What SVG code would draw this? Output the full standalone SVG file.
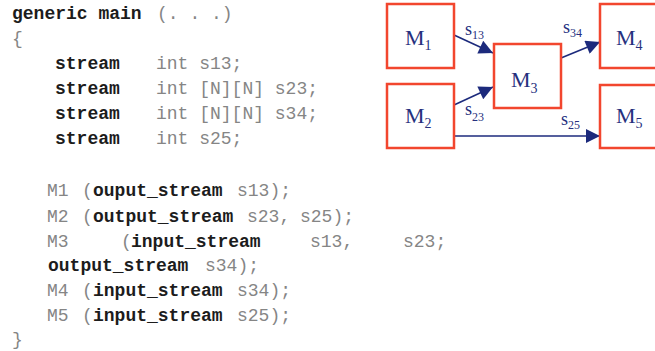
<svg xmlns="http://www.w3.org/2000/svg" width="655" height="351" viewBox="0 0 655 351">
<defs>
<style>
.code{font-family:"Liberation Mono","Courier New",monospace;font-size:18px;fill:#858585}
.b{font-weight:bold;fill:#1c1c1c}
.box{fill:#fff;stroke:#f2462e;stroke-width:2.5}
.lbl{font-family:"Liberation Serif","Times New Roman",serif;font-size:22px;fill:#26307e}
.sub{font-size:14px}
.sl{font-family:"Liberation Serif","Times New Roman",serif;font-size:18px;fill:#26307e}
.ss{font-size:12px}
.conn{stroke:#1c2a7c;stroke-width:1.6;fill:none}
</style>
<marker id="ahl" viewBox="0 0 10 10" refX="10" refY="5" markerWidth="16" markerHeight="14" markerUnits="userSpaceOnUse" orient="auto">
<path d="M0,0 L10,5 L0,10 z" fill="#1c2a7c"/>
</marker>
</defs>
<rect width="655" height="351" fill="#fff"/>
<g id="code">
<text class="code" y="19"><tspan class="b" x="12">generic main</tspan><tspan x="157">(. . .)</tspan></text>
<text class="code" x="12" y="44">{</text>
<text class="code" y="69"><tspan class="b" x="55">stream</tspan><tspan x="156">int s13;</tspan></text>
<text class="code" y="94"><tspan class="b" x="55">stream</tspan><tspan x="156">int [N][N] s23;</tspan></text>
<text class="code" y="119"><tspan class="b" x="55">stream</tspan><tspan x="156">int [N][N] s34;</tspan></text>
<text class="code" y="144"><tspan class="b" x="55">stream</tspan><tspan x="156">int s25;</tspan></text>
<text class="code" y="196"><tspan x="47">M1</tspan><tspan x="82">(</tspan><tspan class="b" x="93">ouput_stream</tspan><tspan x="237">s13);</tspan></text>
<text class="code" y="222"><tspan x="47">M2</tspan><tspan x="82">(</tspan><tspan class="b" x="93">output_stream</tspan><tspan x="247">s23,</tspan><tspan x="300">s25);</tspan></text>
<text class="code" y="247"><tspan x="47">M3</tspan><tspan x="121">(</tspan><tspan class="b" x="131">input_stream</tspan><tspan x="310">s13,</tspan><tspan x="403">s23;</tspan></text>
<text class="code" y="271"><tspan class="b" x="48">output_stream</tspan><tspan x="205">s34);</tspan></text>
<text class="code" y="296"><tspan x="47">M4</tspan><tspan x="82">(</tspan><tspan class="b" x="93">input_stream</tspan><tspan x="237">s34);</tspan></text>
<text class="code" y="321"><tspan x="47">M5</tspan><tspan x="82">(</tspan><tspan class="b" x="93">input_stream</tspan><tspan x="237">s25);</tspan></text>
<text class="code" x="12" y="345">}</text>
</g>
<g id="connectors">
<line class="conn" x1="454" y1="35" x2="493" y2="53" marker-end="url(#ahl)"/>
<line class="conn" x1="454" y1="105" x2="493" y2="87" marker-end="url(#ahl)"/>
<line class="conn" x1="561" y1="58" x2="600" y2="42" marker-end="url(#ahl)"/>
<line class="conn" x1="454" y1="136" x2="600" y2="136" marker-end="url(#ahl)"/>
<text class="sl" x="465" y="35">s<tspan class="ss" dy="4">13</tspan></text>
<text class="sl" x="465" y="115">s<tspan class="ss" dy="6">23</tspan></text>
<text class="sl" x="563" y="33">s<tspan class="ss" dy="4">34</tspan></text>
<text class="sl" x="561" y="125">s<tspan class="ss" dy="4">25</tspan></text>
</g>
<g id="M1">
<rect class="box" x="387" y="4" width="67" height="64"/>
<text class="lbl" x="405" y="45">M<tspan class="sub" dy="5">1</tspan></text>
</g>
<g id="M2">
<rect class="box" x="387" y="84" width="67" height="64"/>
<text class="lbl" x="405" y="123">M<tspan class="sub" dy="5">2</tspan></text>
</g>
<g id="M3">
<rect class="box" x="494" y="44" width="67" height="64"/>
<text class="lbl" x="511" y="87">M<tspan class="sub" dy="6">3</tspan></text>
</g>
<g id="M4">
<rect class="box" x="600" y="4" width="70" height="64"/>
<text class="lbl" x="616" y="45">M<tspan class="sub" dy="5">4</tspan></text>
</g>
<g id="M5">
<rect class="box" x="600" y="85" width="70" height="63"/>
<text class="lbl" x="616" y="123">M<tspan class="sub" dy="5">5</tspan></text>
</g>
</svg>
